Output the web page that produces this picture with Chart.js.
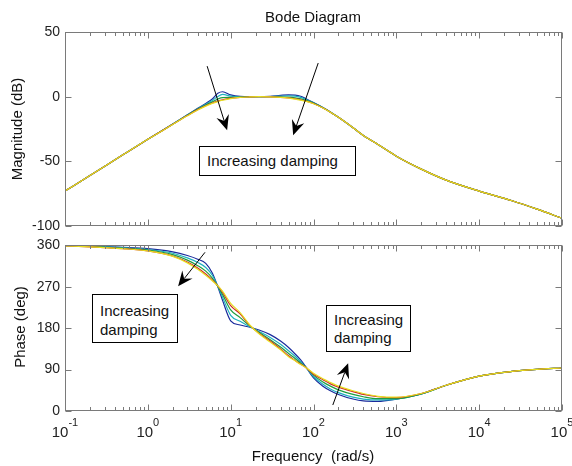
<!DOCTYPE html>
<html>
<head>
<meta charset="utf-8">
<script src="https://cdn.jsdelivr.net/npm/chart.js@4.4.0/dist/chart.umd.min.js"></script>
<style>
  html, body { margin: 0; padding: 0; background: #fff; }
  body { width: 572px; height: 466px; position: relative; overflow: hidden;
         font-family: "Liberation Sans", Arial, sans-serif; color: #111; }
  #magWrap { position: absolute; left: 0; top: 0; width: 572px; height: 240px; }
  #phWrap { position: absolute; left: 0; top: 232px; width: 572px; height: 234px; }
  .lbl { position: absolute; font-size: 15px; white-space: nowrap; transform: translate(-50%, -50%); }
  .rot { transform: translate(-50%, -50%) rotate(-90deg); }
  .box { position: absolute; border: 1px solid #000; background: #fff; font-size: 15px;
         box-sizing: border-box; white-space: nowrap; }
</style>
</head>
<body>
<div id="magWrap"><canvas id="magChart" width="572" height="240"></canvas></div>
<div id="phWrap"><canvas id="phChart" width="572" height="234"></canvas></div>

<div class="lbl" style="left:313px;top:16px;">Bode Diagram</div>
<div class="lbl rot" style="left:16px;top:129px;">Magnitude (dB)</div>
<div class="lbl rot" style="left:19px;top:327px;">Phase (deg)</div>
<div class="lbl" style="left:313px;top:455px;">Frequency&nbsp;&nbsp;(rad/s)</div>

<div class="box" style="left:199px;top:146px;width:157px;height:30px;line-height:28px;padding-left:7px;">Increasing damping</div>
<div class="box" style="left:92px;top:294px;width:86px;height:49px;line-height:19px;padding:6px 0 0 7px;">Increasing<br>damping</div>
<div class="box" style="left:326px;top:305px;width:85px;height:47px;line-height:18px;padding:5px 0 0 7px;">Increasing<br>damping</div>

<script>
// frequency grid (rad/s), shared by every curve
const freqs = [0.1, 0.2, 0.5, 1, 2, 3, 4, 5, 6, 7, 8, 10, 13, 17, 22, 30, 40, 50, 60, 70, 80,
               100, 130, 160, 200, 300, 400, 600, 1000, 2000, 4000, 10000, 25000, 50000, 100000];

// magnitude (dB), least damped -> most damped
const magBlue   = [-73, -61, -45, -33, -21.1, -14.0, -9.0, -5.2, -1.8, 2.6, 3.8, 1.4, 0.2, 0, 0, 0.3, 1.0, 1.4, 1.2, 0.3, -1.4, -4.5, -8.4, -11.8, -16, -24, -30, -37, -46, -56, -64.5, -73, -80.5, -87, -94];
const magCyan   = [-73, -61, -45, -33, -21.2, -14.2, -9.3, -5.8, -3.0, 0.2, 1.7, 0.4, -0.1, 0, 0, 0.1, 0.4, 0.7, 0.4, -0.5, -2.0, -4.8, -8.5, -11.9, -16, -24, -30, -37, -46, -56, -64.5, -73, -80.5, -87, -94];
const magGreen  = [-73, -61, -45, -33, -21.3, -14.4, -9.6, -6.4, -4.0, -1.8, -0.7, -0.6, -0.3, -0.1, 0, 0, -0.2, -0.4, -0.9, -1.7, -2.7, -5.0, -8.6, -12, -16, -24, -30, -37, -46, -56, -64.5, -73, -80.5, -87, -94];
const magRed    = [-73, -61, -45, -33, -21.4, -14.6, -10.0, -7.0, -4.9, -3.4, -2.4, -1.2, -0.5, -0.2, 0, -0.1, -0.5, -1.0, -1.6, -2.4, -3.2, -5.3, -8.7, -12, -16, -24, -30, -37, -46, -56, -64.5, -73, -80.5, -87, -94];
const magYellow = [-73, -61, -45, -33, -21.5, -14.8, -10.3, -7.3, -5.2, -3.8, -2.8, -1.5, -0.6, -0.2, 0, -0.1, -0.6, -1.2, -1.9, -2.7, -3.5, -5.5, -8.8, -12, -16, -24, -30, -37, -46, -56, -64.5, -73, -80.5, -87, -94];

// phase (deg)
const phBlue   = [360, 359, 356, 353, 346, 338, 330, 321, 300, 270, 240, 196, 187, 182, 176, 166, 152, 138, 124, 111, 97, 72, 54, 44, 36, 26, 22, 21, 26, 37, 56, 76, 86, 90.5, 93.5];
const phCyan   = [360, 358, 355, 351, 343, 333, 323, 312, 295, 271, 247, 208, 195, 183, 173, 160, 145, 131, 119, 107, 96, 75, 58, 48, 40, 30, 26, 24, 26, 37, 56, 76, 86, 90.5, 93.5];
const phGreen  = [359, 358, 354, 350, 340, 328, 316, 304, 289, 271, 253, 220, 203, 185, 171, 155, 139, 125, 114, 104, 96, 78, 63, 54, 46, 36, 31, 27, 27, 37, 56, 76, 86, 90.5, 93.5];
const phRed    = [359, 357, 353, 348, 337, 324, 311, 298, 285, 272, 258, 229, 211, 186, 169, 152, 135, 120, 110, 102, 95, 80, 68, 59, 52, 42, 36, 31, 29, 38, 56, 76, 86, 90.5, 93.5];
const phYellow = [359, 357, 353, 348, 336, 322, 308, 295, 283, 272, 260, 234, 214, 187, 168, 150, 133, 118, 109, 101, 95, 82, 70, 62, 54, 44, 38, 32, 30, 38, 56, 76, 86, 90.5, 93.5];

// ticks
const decadeTicks = [0.1, 1, 10, 100, 1000, 10000, 100000];
const decadeExps = ['-1', '0', '1', '2', '3', '4', '5'];
const minorSteps = [2, 3, 4, 5, 6, 7, 8, 9];
const magTicks = [-100, -50, 0, 50];
const phTicks = [0, 90, 180, 270, 360];

// arrows [freq, value] -> [freq, value]
const magArrows = [
  {from: [5.2, 23.6], to: [9.06, -26]},
  {from: [114, 26], to: [56.8, -29.8]}
];
const phArrows = [
  {from: [4.9, 345], to: [2.32, 271]},
  {from: [171, 13], to: [262, 104]}
];

const lineColors = {yellow: '#e6df1e', red: '#d02a2a', green: '#1f9e3e', cyan: '#1fb0c0', blue: '#1a2b9c'};
const FONT = '"Liberation Sans", Arial, sans-serif';

function pts(ys) {
  return freqs.map((f, i) => ({x: f, y: ys[i]}));
}

function makeSets(y, r, g, c, b) {
  // index 0 ends up on top
  return [
    {data: pts(y), borderColor: lineColors.yellow},
    {data: pts(r), borderColor: lineColors.red},
    {data: pts(g), borderColor: lineColors.green},
    {data: pts(c), borderColor: lineColors.cyan},
    {data: pts(b), borderColor: lineColors.blue}
  ].map(d => Object.assign(d, {borderWidth: 1.2, pointRadius: 0, fill: false, cubicInterpolationMode: 'monotone'}));
}

function drawArrow(ctx, x0, y0, x1, y1) {
  const dx = x1 - x0, dy = y1 - y0, len = Math.hypot(dx, dy);
  const ux = dx / len, uy = dy / len, nx = -uy, ny = ux;
  const L = 15, W = 6.5;
  const bx = x1 - ux * L, by = y1 - uy * L;
  const mx = x1 - ux * L * 0.65, my = y1 - uy * L * 0.65;
  ctx.beginPath();
  ctx.moveTo(x0, y0);
  ctx.lineTo(mx, my);
  ctx.stroke();
  ctx.beginPath();
  ctx.moveTo(x1, y1);
  ctx.lineTo(bx + nx * W, by + ny * W);
  ctx.lineTo(mx, my);
  ctx.lineTo(bx - nx * W, by - ny * W);
  ctx.closePath();
  ctx.fill();
}

// axes box, inward ticks, arrows and decade labels
const framePlugin = {
  id: 'frame',
  afterDatasetsDraw(chart, args, opts) {
    const {ctx, chartArea: a} = chart;
    const sx = chart.scales.x, sy = chart.scales.y;
    const L = Math.round(a.left) + 0.5, R = Math.round(a.right) - 0.5;
    const T = Math.round(a.top) + 0.5, B = Math.round(a.bottom) - 0.5;
    ctx.save();
    ctx.strokeStyle = '#7a7a7a';
    ctx.lineWidth = 1;
    ctx.strokeRect(L, T, R - L, B - T);

    ctx.beginPath();
    decadeTicks.forEach((d, i) => {
      const px = Math.round(sx.getPixelForValue(d)) + 0.5;
      ctx.moveTo(px, B); ctx.lineTo(px, B - 6);
      ctx.moveTo(px, T); ctx.lineTo(px, T + 6);
      if (i < decadeTicks.length - 1) {
        minorSteps.forEach(m => {
          const mp = Math.round(sx.getPixelForValue(d * m)) + 0.5;
          ctx.moveTo(mp, B); ctx.lineTo(mp, B - 3.5);
          ctx.moveTo(mp, T); ctx.lineTo(mp, T + 3.5);
        });
      }
    });
    opts.yTicks.forEach(v => {
      const py = Math.round(sy.getPixelForValue(v)) + 0.5;
      ctx.moveTo(L, py); ctx.lineTo(L + 6, py);
      ctx.moveTo(R, py); ctx.lineTo(R - 6, py);
    });
    ctx.stroke();

    ctx.strokeStyle = '#000';
    ctx.fillStyle = '#000';
    opts.arrows.forEach(ar => {
      drawArrow(ctx,
        sx.getPixelForValue(ar.from[0]), sy.getPixelForValue(ar.from[1]),
        sx.getPixelForValue(ar.to[0]), sy.getPixelForValue(ar.to[1]));
    });

    if (opts.xLabels) {
      ctx.fillStyle = '#222';
      ctx.textBaseline = 'alphabetic';
      ctx.textAlign = 'left';
      decadeTicks.forEach((d, i) => {
        const px = sx.getPixelForValue(d);
        ctx.font = '15px ' + FONT;
        const wb = ctx.measureText('10').width;
        ctx.font = '11px ' + FONT;
        const we = ctx.measureText(decadeExps[i]).width;
        const x0 = px - (wb + we) / 2;
        ctx.font = '15px ' + FONT;
        ctx.fillText('10', x0, a.bottom + 26);
        ctx.font = '11px ' + FONT;
        ctx.fillText(decadeExps[i], x0 + wb, a.bottom + 15);
      });
    }
    ctx.restore();
  }
};

function yAxis(min, max, ticks) {
  return {
    type: 'linear', min: min, max: max,
    afterBuildTicks: s => { s.ticks = ticks.map(v => ({value: v})); },
    afterFit: s => { s.width = 65; },
    grid: {display: false, drawTicks: false},
    border: {display: false},
    ticks: {color: '#222', padding: 5, font: {family: FONT, size: 14}}
  };
}

function baseOptions(min, max, ticks, padding, arrows, xLabels) {
  return {
    responsive: false,
    animation: false,
    devicePixelRatio: 1,
    layout: {padding: padding},
    plugins: {
      legend: {display: false},
      tooltip: {enabled: false},
      frame: {yTicks: ticks, arrows: arrows, xLabels: xLabels}
    },
    scales: {
      x: {type: 'logarithmic', min: 0.1, max: 100000, display: false},
      y: yAxis(min, max, ticks)
    }
  };
}

new Chart(document.getElementById('magChart'), {
  type: 'line',
  data: {datasets: makeSets(magYellow, magRed, magGreen, magCyan, magBlue)},
  options: baseOptions(-100, 50, magTicks, {left: 0, right: 10, top: 32, bottom: 14}, magArrows, false),
  plugins: [framePlugin]
});

new Chart(document.getElementById('phChart'), {
  type: 'line',
  data: {datasets: makeSets(phYellow, phRed, phGreen, phCyan, phBlue)},
  options: baseOptions(0, 360, phTicks, {left: 0, right: 10, top: 9, bottom: 55}, phArrows, true),
  plugins: [framePlugin]
});
</script>
</body>
</html>
